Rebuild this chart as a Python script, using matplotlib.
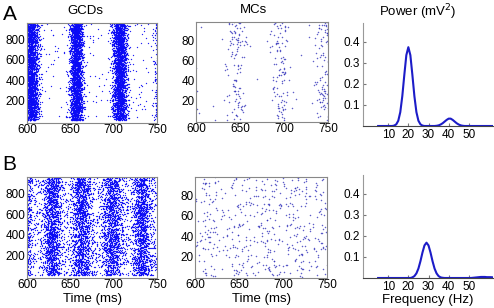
import numpy as np
import matplotlib
matplotlib.use('Agg')
import matplotlib.pyplot as plt

plt.rcParams['font.family'] = ['Liberation Sans', 'DejaVu Sans']

# burst parameters (centre ms, spread ms, spikes per burst)
gcd_a_centers = [605, 657, 707, 757]
gcd_a_sd = [4.3, 3.8, 4.1, 4.0]
gcd_a_counts = [2500, 2400, 2400, 2300]
gcd_a_background = 220

gcd_b_centers = [597, 629, 663, 698, 732]
gcd_b_sd = [4.5, 5.5, 6.0, 6.0, 5.5]
gcd_b_counts = [800, 1300, 1200, 1200, 1200]
gcd_b_background = 1500

mc_a_centers = [595, 645, 695, 745]
mc_a_sd = [4.0, 6.0, 5.5, 6.0]
mc_a_counts = [25, 110, 100, 110]
mc_a_background = 20

mc_b_centers = [615, 650, 683, 718, 748]
mc_b_sd = [6.0, 6.0, 6.0, 6.0, 6.0]
mc_b_counts = [40, 40, 40, 40, 30]
mc_b_background = 300

n_gcd = 960
n_mc = 98

# power spectra
freq = list(range(5, 63))
power_a = [0, 0, 0, 0, 0, 0, 0, 0,                      # 5-12
           0.002, 0.008, 0.025, 0.066, 0.142, 0.243, 0.337, 0.375,   # 13-20
           0.337, 0.243, 0.142, 0.066, 0.025, 0.008, 0.002,          # 21-27
           0, 0, 0, 0, 0, 0,                                          # 28-33
           0.001, 0.003, 0.007, 0.013, 0.021, 0.029, 0.035,           # 34-40
           0.035, 0.029, 0.021, 0.013, 0.007, 0.003, 0.001,           # 41-47
           0, 0, 0, 0, 0, 0, 0, 0, 0, 0, 0, 0, 0, 0, 0]               # 48-62
power_b = [0] * 17 + [                                                # 5-21
           0.003, 0.009, 0.022, 0.045, 0.080, 0.121, 0.155, 0.168,    # 22-29
           0.155, 0.121, 0.080, 0.045, 0.022, 0.009, 0.003, 0.001,    # 30-37
           0, 0, 0, 0, 0, 0, 0, 0, 0, 0, 0, 0, 0, 0,                  # 38-51
           0.001, 0.002, 0.003, 0.004, 0.005, 0.005, 0.005, 0.004,    # 52-59
           0.004, 0.004, 0.003]                                       # 60-62

rng = np.random.default_rng(7)


def spikes(centers, sds, counts, background, ncell):
    t, c = [], []
    for m, s, n in zip(centers, sds, counts):
        t.append(rng.normal(m, s, n))
        c.append(rng.uniform(0, ncell, n))
    t.append(rng.uniform(600, 750, background))
    c.append(rng.uniform(0, ncell, background))
    return np.concatenate(t), np.concatenate(c)


W, H = 494, 308
fig = plt.figure(figsize=(W / 100, H / 100), dpi=100)


def box(l, t, r, b):
    return fig.add_axes([l / W, 1 - b / H, (r - l) / W, (b - t) / H])


def raster(ax, t, c, ylim, yticks, color, size, alpha):
    ax.scatter(t, c, s=size, c=color, marker='o', linewidths=0, alpha=alpha)
    ax.set_xlim(600, 750)
    ax.set_ylim(*ylim)
    ax.set_xticks([600, 650, 700, 750])
    ax.set_yticks(yticks)
    ax.tick_params(length=0, labelsize=8.5, pad=1)
    for s in ax.spines.values():
        s.set_color('#888888')


def power(ax, p):
    ax.plot(freq, p, color='#1c1cc8', lw=1.5)
    ax.set_xlim(-2.5, 62)
    ax.set_ylim(0, 0.49)
    ax.set_xticks([10, 20, 30, 40, 50])
    ax.set_yticks([0.1, 0.2, 0.3, 0.4])
    ax.set_yticklabels(['0.1', '0.2', '0.3', '0.4'])
    ax.spines['top'].set_visible(False)
    ax.spines['right'].set_visible(False)
    ax.spines['left'].set_color('#999999')
    ax.spines['left'].set_linewidth(0.8)
    ax.spines['bottom'].set_color('#444444')
    ax.tick_params(direction='in', length=2.5, labelsize=8.5, pad=2, color='#777777')


ax = box(27, 23, 157, 123)
raster(ax, *spikes(gcd_a_centers, gcd_a_sd, gcd_a_counts, gcd_a_background, n_gcd),
       (-25, 965), [200, 400, 600, 800], '#0a0af5', 0.9, 0.9)
ax = box(196, 22, 328, 122)
raster(ax, *spikes(mc_a_centers, mc_a_sd, mc_a_counts, mc_a_background, n_mc),
       (-1, 98), [20, 40, 60, 80], '#2a2ab8', 1.2, 0.75)
ax = box(363, 23, 493, 126)
power(ax, power_a)

ax = box(27, 177, 157, 278)
raster(ax, *spikes(gcd_b_centers, gcd_b_sd, gcd_b_counts, gcd_b_background, n_gcd),
       (-25, 965), [200, 400, 600, 800], '#0a0af5', 0.9, 0.9)
ax.set_xlabel('Time (ms)', fontsize=9.5, labelpad=1)
ax = box(195, 177, 327, 278)
raster(ax, *spikes(mc_b_centers, mc_b_sd, mc_b_counts, mc_b_background, n_mc),
       (-1, 98), [20, 40, 60, 80], '#2a2ab8', 1.2, 0.75)
ax.set_xlabel('Time (ms)', fontsize=9.5, labelpad=1)
ax = box(363, 175, 493, 278)
power(ax, power_b)
ax.set_xlabel('Frequency (Hz)', fontsize=9.5, labelpad=1)

fig.text(85 / W, 1 - 11 / H, 'GCDs', ha='center', va='center', fontsize=9.5)
fig.text(253 / W, 1 - 10 / H, 'MCs', ha='center', va='center', fontsize=9.5)
fig.text(418 / W, 1 - 12 / H, 'Power (mV$^2$)', ha='center', va='center', fontsize=9.5)
fig.text(3 / W, 1 - 14 / H, 'A', ha='left', va='center', fontsize=15)
fig.text(2 / W, 1 - 164 / H, 'B', ha='left', va='center', fontsize=15)

fig.savefig('out.png', dpi=100)
